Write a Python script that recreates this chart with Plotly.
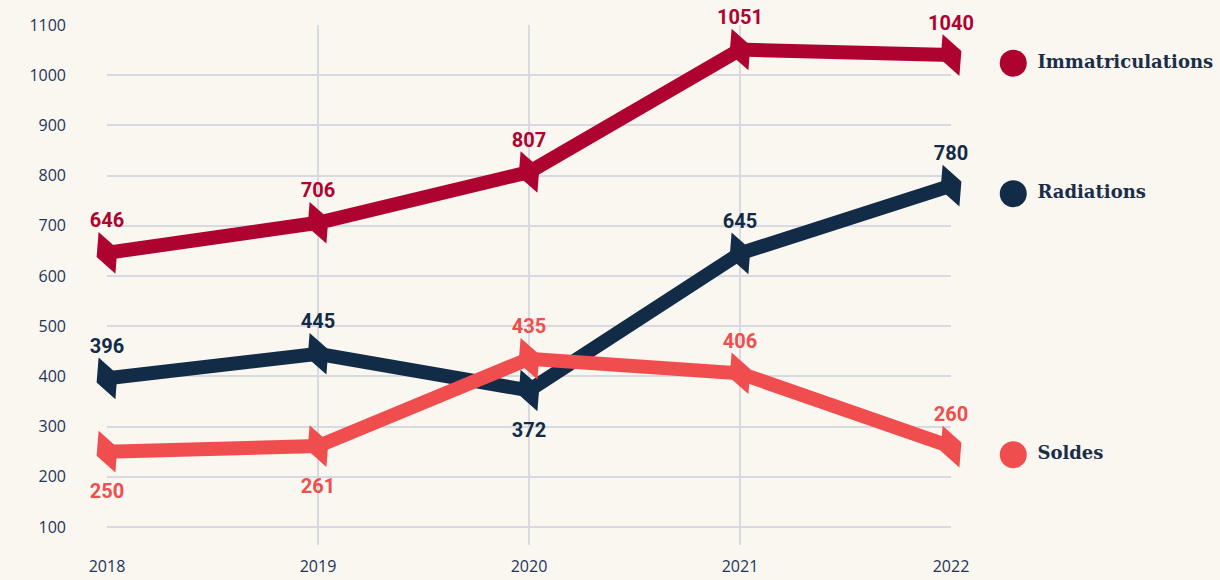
import plotly.graph_objects as go

years = [2018, 2019, 2020, 2021, 2022]
immat = [646, 706, 807, 1051, 1040]
radiations = [396, 445, 372, 645, 780]
soldes = [250, 261, 435, 406, 260]
series_names = ["Immatriculations", "Radiations", "Soldes"]
colors = ["#ae0330", "#122c48", "#f04e4e"]
y_ticks = [100, 200, 300, 400, 500, 600, 700, 800, 900, 1000, 1100]
legend_x_offset = 0.295
legend_y_shift = -16
label_y_shift = -11

label_pos = [
    ["top center"] * 5,
    ["top center", "top center", "bottom center", "top center", "top center"],
    ["bottom center", "bottom center", "top center", "top center", "top center"],
]

W, H = 1220, 580
ML, MR, MT, MB = 107, 269, 25, 35
plot_w = W - ML - MR
full_w = W - ML
span = years[-1] - years[0]
y_range = [64, 1100]

fig = go.Figure()
for name, vals, col, pos in zip(series_names, [immat, radiations, soldes], colors, label_pos):
    fig.add_trace(go.Scatter(
        x=years, y=vals, mode="lines+markers", name=name,
        line=dict(color=col, width=14),
        marker=dict(symbol="diamond-tall", size=32, angle=-22, color=col),
        cliponaxis=False, showlegend=False, hoverinfo="skip",
    ))
for name, vals, col, pos in zip(series_names, [immat, radiations, soldes], colors, label_pos):
    fig.add_trace(go.Scatter(
        x=years, y=[v + label_y_shift for v in vals], mode="markers+text",
        marker=dict(size=40, opacity=0, color=col),
        text=[str(v) for v in vals], textposition=pos,
        textfont=dict(family="Roboto", size=20, color=col, weight="bold"),
        cliponaxis=False, showlegend=False, hoverinfo="skip",
    ))
    fig.add_trace(go.Scatter(
        x=[years[-1] + legend_x_offset], y=[vals[-1] + legend_y_shift], xaxis="x2", yaxis="y2",
        mode="markers+text", marker=dict(size=27, color=col, symbol="circle"),
        text=[" " + name], textposition="middle right",
        textfont=dict(family="DejaVu Serif", size=18, color="#1a2e4a", weight="bold"),
        cliponaxis=False, showlegend=False, hoverinfo="skip",
    ))

fig.update_layout(
    width=W, height=H, showlegend=False,
    paper_bgcolor="#faf6f0", plot_bgcolor="rgba(0,0,0,0)",
    margin=dict(l=ML, r=0, t=MT, b=MB, autoexpand=False),
    xaxis=dict(domain=[0, plot_w / full_w], range=[years[0], years[-1]], tickvals=years,
               showgrid=True, gridcolor="#d7dae2", gridwidth=1.5, zeroline=False, showline=False,
               ticklabelstandoff=10, automargin=False,
               tickfont=dict(family="Open Sans", size=16, color="#1d3557")),
    yaxis=dict(range=y_range, tickvals=y_ticks, showgrid=True, gridcolor="#d7dae2",
               gridwidth=1.5, zeroline=False, showline=False, ticklabelstandoff=40,
               automargin=False,
               tickfont=dict(family="Open Sans", size=16, color="#1d3557")),
    xaxis2=dict(domain=[0, 1], anchor="y2", range=[years[0], years[0] + span * full_w / plot_w],
                visible=False, showgrid=False, automargin=False),
    yaxis2=dict(domain=[0, 1], anchor="x2", range=y_range, visible=False, showgrid=False,
                automargin=False),
)
fig.write_html("out.html", post_script="document.body.style.margin='0';",
               config={"displayModeBar": False})
